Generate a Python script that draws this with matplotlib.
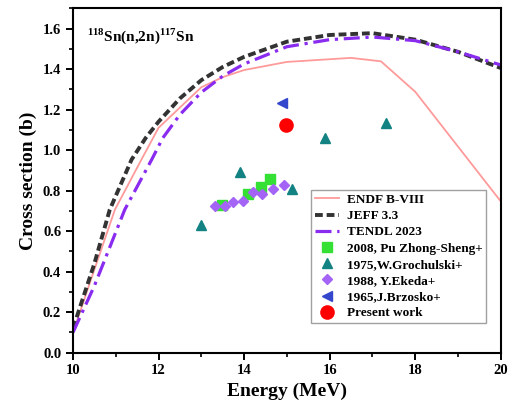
import matplotlib
matplotlib.use("Agg")
import matplotlib.pyplot as plt
from matplotlib.ticker import MultipleLocator, FormatStrFormatter
import numpy as np

plt.rcParams['font.family'] = ['Liberation Serif', 'DejaVu Serif']
plt.rcParams['font.weight'] = 'bold'
plt.rcParams['mathtext.fontset'] = 'custom'
plt.rcParams['mathtext.rm'] = 'Liberation Serif:bold'
plt.rcParams['mathtext.bf'] = 'Liberation Serif:bold'

# evaluated libraries
endf_e = [10, 10.5, 10.98, 11.6, 12.0, 12.5, 13.0, 13.5, 14, 15, 16.5, 17.2, 18.0, 20]
endf_xs = [0.10, 0.41, 0.706, 0.953, 1.11, 1.21, 1.31, 1.36, 1.395, 1.435, 1.455, 1.438, 1.288, 0.747]

jeff_e = [10, 10.5, 10.86, 11.37, 11.7, 12, 12.5, 13, 13.5, 14, 15, 16, 17, 18, 19, 20]
jeff_xs = [0.12, 0.44, 0.706, 0.953, 1.06, 1.14, 1.255, 1.345, 1.41, 1.46, 1.535, 1.568, 1.577, 1.545, 1.485, 1.405]

tendl_e = [10, 10.5, 11.21, 11.84, 12.1, 12.5, 13, 13.5, 14, 15, 16, 17, 18, 19, 20]
tendl_xs = [0.10, 0.33, 0.706, 0.953, 1.06, 1.175, 1.285, 1.365, 1.425, 1.51, 1.545, 1.558, 1.54, 1.485, 1.42]

# measurements
pu_e = [13.49, 14.10, 14.39, 14.60]
pu_xs = [0.729, 0.784, 0.818, 0.855]

groch_e = [13.0, 13.9, 15.11, 15.9, 17.31]
groch_xs = [0.632, 0.891, 0.81, 1.061, 1.132]

ekeda_e = [13.33, 13.55, 13.75, 13.98, 14.21, 14.42, 14.68, 14.94]
ekeda_xs = [0.722, 0.722, 0.744, 0.747, 0.792, 0.785, 0.808, 0.826]

brz_e = [14.88]
brz_xs = [1.231]

present_e = [14.97]
present_xs = [1.122]

fig = plt.figure(figsize=(5.08, 4.12), dpi=100)
ax = fig.add_axes([0.1437, 0.144, 0.842, 0.836])

ax.plot(endf_e, endf_xs, color='#FF9A9A', lw=1.3, label='ENDF B-VIII')
ax.plot(jeff_e, jeff_xs, color='#333333', lw=2.8, dashes=(2, 1), label='JEFF 3.3')
ax.plot(tendl_e, tendl_xs, color='#8A2BF0', lw=2.3, dashes=(5, 1.8, 1, 1.8), label='TENDL 2023')

ax.plot(pu_e, pu_xs, 's', color='#33E033', ms=6.5, ls='none', label='2008, Pu Zhong-Sheng+')
ax.plot(groch_e, groch_xs, '^', color='#128282', ms=7.5, ls='none', label='1975,W.Grochulski+')
ax.plot(ekeda_e, ekeda_xs, 'D', color='#A464F5', ms=5, ls='none', label='1988, Y.Ekeda+')
ax.plot(brz_e, brz_xs, '<', color='#3346CC', ms=7, ls='none', label='1965,J.Brzosko+')
ax.plot(present_e, present_xs, 'o', color='#FF0000', ms=9.5, ls='none', label='Present work')

ax.set_xlim(10, 20)
ax.set_ylim(0, 1.7)
ax.xaxis.set_major_locator(MultipleLocator(2))
ax.xaxis.set_minor_locator(MultipleLocator(1))
ax.yaxis.set_major_locator(MultipleLocator(0.2))
ax.yaxis.set_minor_locator(MultipleLocator(0.1))
ax.yaxis.set_major_formatter(FormatStrFormatter('%.1f'))
ax.tick_params(which='major', direction='out', length=5, width=1.4, labelsize=10.5)
ax.tick_params(which='minor', direction='out', length=3, width=1.2)
for s in ax.spines.values():
    s.set_linewidth(1.5)

ax.set_xlabel('Energy (MeV)', fontsize=14, fontweight='bold')
ax.set_ylabel('Cross section (b)', fontsize=14, fontweight='bold')

ax.text(0.033, 0.905, r'$^{118}$Sn(n,2n)$^{117}$Sn', transform=ax.transAxes,
        fontsize=11, fontweight='bold')

leg = ax.legend(loc='lower right', bbox_to_anchor=(0.982, 0.066),
                frameon=True, fancybox=False, edgecolor='#888888',
                handlelength=1.8, labelspacing=0.3, borderpad=0.3,
                handletextpad=0.6, prop={'weight': 'bold', 'size': 9.5})
leg.get_frame().set_linewidth(1.0)

fig.savefig('out.png', dpi=100)
